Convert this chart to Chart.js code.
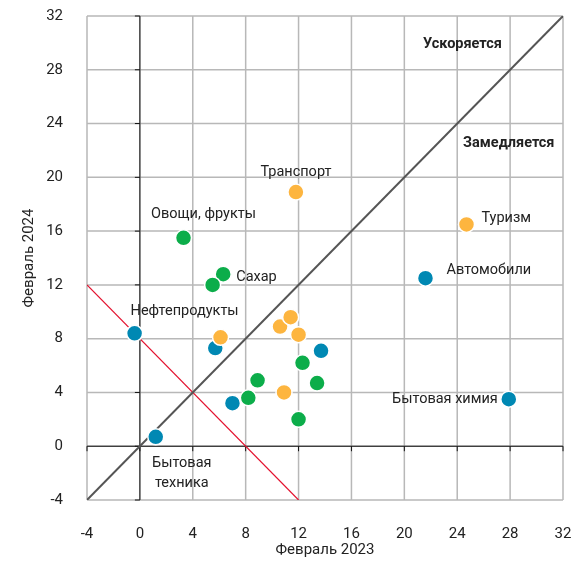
<!DOCTYPE html>
<html lang="ru">
<head>
    <meta charset="UTF-8">
    <title>Февраль 2023 vs Февраль 2024</title>
    <script src="https://cdn.jsdelivr.net/npm/chart.js"></script>
    <style>
        html, body { margin: 0; padding: 0; background: #fff; }
        #wrap { width: 582px; height: 561px; position: relative; }
    </style>
</head>
<body>
<div id="wrap"><canvas id="chart"></canvas></div>
<script>
    // axis ticks
    const tickValues = [-4, 0, 4, 8, 12, 16, 20, 24, 28, 32];

    // orange group
    const orangeX = [11.8, 24.7, 6.1, 10.6, 11.4, 12.0, 10.9];
    const orangeY = [18.9, 16.5, 8.1, 8.9, 9.6, 8.3, 4.0];
    const orangeNames = ['Транспорт', 'Туризм', '', '', '', '', ''];

    // green group
    const greenX = [3.3, 6.3, 5.5, 12.3, 8.9, 13.4, 8.2, 12.0];
    const greenY = [15.5, 12.8, 12.0, 6.2, 4.9, 4.7, 3.6, 2.0];
    const greenNames = ['Овощи, фрукты', 'Сахар', '', '', '', '', '', ''];

    // blue group
    const blueX = [-0.4, 21.6, 5.7, 13.7, 7.0, 27.9, 1.2];
    const blueY = [8.4, 12.5, 7.3, 7.1, 3.2, 3.5, 0.7];
    const blueNames = ['Нефтепродукты', 'Автомобили', '', '', '', 'Бытовая химия', 'Бытовая техника'];

    // reference lines
    const diagX = [-4, 32];
    const diagY = [-4, 32];
    const redX = [-4, 12];
    const redY = [12, -4];

    // zone labels (data coords)
    const zoneNames = ['Ускоряется', 'Замедляется'];
    const zoneX = [24.4, 27.9];
    const zoneY = [29.9, 22.5];

    const toPts = (xs, ys) => xs.map((x, i) => ({ x: x, y: ys[i] }));

    // where each named label sits relative to its point (px)
    const labelPlace = {
        'Транспорт': { dx: 0, dy: -20, align: 'center' },
        'Туризм': { dx: 15, dy: -6, align: 'left' },
        'Овощи, фрукты': { dx: 20, dy: -23, align: 'center' },
        'Сахар': { dx: 13, dy: 3, align: 'left' },
        'Нефтепродукты': { dx: 50, dy: -22, align: 'center' },
        'Автомобили': { dx: 21, dy: -8, align: 'left' },
        'Бытовая химия': { dx: -11, dy: 0, align: 'right' },
        'Бытовая техника': { dx: 26, dy: 27, align: 'center', lines: ['Бытовая', 'техника'] }
    };

    const FONT = 'Roboto, "Liberation Sans", sans-serif';

    const annotate = {
        id: 'annotate',
        beforeDatasetsDraw(chart) {
            const ctx = chart.ctx;
            const xs = chart.scales.x, ys = chart.scales.y;
            ctx.save();
            // light grid
            ctx.strokeStyle = '#b8b8b8';
            ctx.lineWidth = 1.5;
            ctx.beginPath();
            tickValues.forEach(v => {
                const px = xs.getPixelForValue(v), py = ys.getPixelForValue(v);
                ctx.moveTo(px, ys.top); ctx.lineTo(px, ys.bottom);
                ctx.moveTo(xs.left, py); ctx.lineTo(xs.right, py);
            });
            ctx.stroke();
            // zero axes with little ticks
            const x0 = xs.getPixelForValue(0), y0 = ys.getPixelForValue(0);
            ctx.strokeStyle = '#111';
            ctx.lineWidth = 1;
            ctx.beginPath();
            ctx.moveTo(x0, ys.top); ctx.lineTo(x0, ys.bottom);
            ctx.moveTo(xs.left, y0); ctx.lineTo(xs.right, y0);
            tickValues.forEach(v => {
                const py = ys.getPixelForValue(v);
                ctx.moveTo(x0 - 5, py); ctx.lineTo(x0, py);
                const px = xs.getPixelForValue(v);
                ctx.moveTo(px, y0); ctx.lineTo(px, y0 + 5);
            });
            ctx.stroke();
            ctx.restore();
        },
        afterDatasetsDraw(chart) {
            const ctx = chart.ctx;
            const xs = chart.scales.x, ys = chart.scales.y;
            ctx.save();
            ctx.fillStyle = '#222';
            ctx.textBaseline = 'middle';
            ctx.font = '14.5px ' + FONT;
            [[orangeX, orangeY, orangeNames], [greenX, greenY, greenNames], [blueX, blueY, blueNames]].forEach(g => {
                g[2].forEach((name, i) => {
                    if (!name) return;
                    const p = labelPlace[name];
                    const px = xs.getPixelForValue(g[0][i]) + p.dx;
                    const py = ys.getPixelForValue(g[1][i]) + p.dy;
                    ctx.textAlign = p.align;
                    const lines = p.lines || [name];
                    lines.forEach((t, k) => ctx.fillText(t, px, py + k * 20));
                });
            });
            ctx.font = 'bold 14.5px ' + FONT;
            ctx.textAlign = 'center';
            zoneNames.forEach((t, i) => {
                ctx.fillText(t, xs.getPixelForValue(zoneX[i]), ys.getPixelForValue(zoneY[i]));
            });
            ctx.restore();
        }
    };

    const pointStyle = (color) => ({
        backgroundColor: color,
        borderColor: '#fff',
        borderWidth: 1.5,
        pointRadius: 8,
        pointHoverRadius: 8,
        showLine: false,
        order: 1
    });

    // drop the label-based padding so layout.padding alone places the plot
    const noPad = s => { s.paddingTop = 0; s.paddingRight = 0; s.paddingLeft = 0; s.paddingBottom = 0; };

    new Chart(document.getElementById('chart'), {
        type: 'scatter',
        data: {
            datasets: [
                Object.assign({ data: toPts(orangeX, orangeY) }, pointStyle('#fdb53f')),
                Object.assign({ data: toPts(greenX, greenY) }, pointStyle('#0cad4a')),
                Object.assign({ data: toPts(blueX, blueY) }, pointStyle('#0088b3')),
                {
                    data: toPts(diagX, diagY), showLine: true, borderColor: '#555',
                    borderWidth: 2, pointRadius: 0, order: 10
                },
                {
                    data: toPts(redX, redY), showLine: true, borderColor: '#e3112e',
                    borderWidth: 1.2, pointRadius: 0, order: 10
                }
            ]
        },
        options: {
            responsive: true,
            maintainAspectRatio: false,
            animation: false,
            layout: { padding: { top: 16, right: 19, left: 0, bottom: 4 } },
            plugins: { legend: { display: false }, tooltip: { enabled: false } },
            scales: {
                x: {
                    type: 'linear', min: -4, max: 32,
                    afterBuildTicks: s => { s.ticks = tickValues.map(v => ({ value: v })); },
                    afterFit: s => { s.height = 57; noPad(s); },
                    grid: { display: false },
                    border: { display: false },
                    ticks: { color: '#222', padding: 17, font: { family: FONT, size: 15 } },
                    title: { display: true, text: 'Февраль 2023', color: '#222', padding: { top: 0, bottom: -2 }, font: { family: FONT, size: 15 } }
                },
                y: {
                    type: 'linear', min: -4, max: 32,
                    afterBuildTicks: s => { s.ticks = tickValues.map(v => ({ value: v })); },
                    afterFit: s => { s.width = 87; noPad(s); },
                    grid: { display: false },
                    border: { display: false },
                    ticks: { color: '#222', padding: 16, font: { family: FONT, size: 15 } },
                    title: { display: true, text: 'Февраль 2024', color: '#222', padding: { top: 20, bottom: 0 }, font: { family: FONT, size: 15 } }
                }
            }
        },
        plugins: [annotate]
    });
</script>
</body>
</html>
